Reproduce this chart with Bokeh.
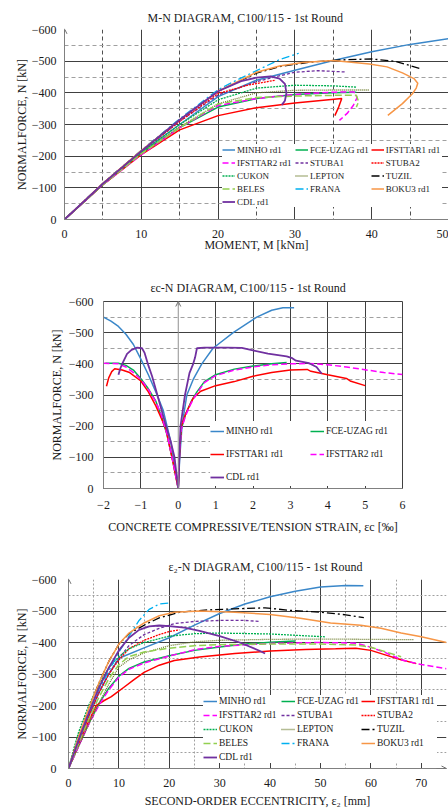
from bokeh.plotting import figure
from bokeh.layouts import column
from bokeh.models import (Range1d, FixedTicker, Legend, LegendItem,
                          Arrow, OpenHead, Span)
from bokeh.embed import file_html
from bokeh.resources import INLINE

FONT = "Liberation Serif"

# ---------------- Chart 1 : M-N diagram (M [kNm], N [kN]) ----------------
mn_minho_m = [0, 5, 10, 15, 20, 25, 30, 35, 40, 45, 50]
mn_minho_n = [0, -112, -212, -300, -388, -440, -471, -502, -530, -553, -571]
mn_fce_m = [0, 5, 10, 15, 20, 25, 30, 35, 38]
mn_fce_n = [0, -110, -208, -290, -355, -382, -395, -400, -402]
mn_ifs1_m = [0, 5, 10, 15, 20, 25, 30, 36.1, 35.7, 35.2]
mn_ifs1_n = [0, -110, -205, -283, -328, -353, -368, -382, -355, -328]
mn_ifs2_m = [0, 5, 10, 15, 20, 25, 30, 35, 37.7, 38.1, 37.6, 36.8, 35.8]
mn_ifs2_n = [0, -110, -205, -290, -360, -382, -395, -402, -403, -385, -360, -335, -313]
mn_stuba1_m = [0, 5, 10, 15, 20, 25, 27, 30, 33, 36.5]
mn_stuba1_n = [0, -113, -215, -310, -393, -435, -448, -465, -470, -466]
mn_stuba2_m = [0, 5, 10, 15, 20, 24, 27.5]
mn_stuba2_n = [0, -113, -215, -310, -398, -425, -440]
mn_cukon_m = [0, 5, 10, 15, 20, 25, 30, 35, 38]
mn_cukon_n = [0, -112, -212, -300, -378, -415, -424, -422, -418]
mn_lepton_m = [0, 5, 10, 15, 20, 25, 30, 35, 39.7]
mn_lepton_n = [0, -110, -208, -293, -365, -400, -408, -409, -409]
mn_tuzil_m = [0, 5, 10, 15, 20, 25, 28, 32, 36, 40, 43, 46.4]
mn_tuzil_n = [0, -114, -218, -315, -405, -462, -483, -497, -504, -507, -500, -476]
mn_beles_m = [0, 5, 10, 15, 20, 25, 30, 35, 38, 38.3, 38.0]
mn_beles_n = [0, -110, -208, -290, -365, -385, -390, -392, -392, -372, -355]
mn_frana_m = [0, 5, 10, 15, 20, 22, 25, 28, 30.5]
mn_frana_n = [0, -114, -218, -318, -410, -435, -470, -505, -525]
mn_boku_m = [0, 5, 10, 15, 20, 25, 28, 31, 35, 39.7, 42, 44, 45.5, 46, 45.8, 45.3, 44, 42.1]
mn_boku_n = [0, -114, -218, -315, -405, -465, -485, -496, -502, -491, -482, -463, -445, -430, -415, -397, -366, -329]
mn_cdl_m = [0, 5, 10, 15, 20, 23, 25, 26.8, 28, 28.7, 28.9, 28.7, 28.3]
mn_cdl_n = [0, -113, -216, -315, -405, -437, -448, -452, -445, -428, -400, -375, -362]

# ---------------- Chart 2 : eps_c - N diagram (strain [permil], N [kN]) ----------------
ec_minho_e = [-2, -1.8, -1.6, -1.4, -1.2, -1.0, -0.8, -0.6, -0.4, -0.2, 0,
              0.04, 0.1, 0.23, 0.4, 0.63, 0.93, 1.47, 2.1, 2.5, 2.8, 3.1]
ec_minho_n = [-550, -537, -520, -495, -462, -415, -365, -310, -250, -150, 0,
              -100, -200, -300, -350, -400, -450, -500, -550, -572, -580, -580]
ec_fce_e = [-1.95, -1.6, -1.4, -1.2, -1.0, -0.8, -0.6, -0.45, -0.3, -0.15, 0,
            0.03, 0.08, 0.2, 0.35, 0.5, 0.7, 1.0, 1.5, 2.0, 2.5, 2.9]
ec_fce_n = [-402, -402, -395, -380, -352, -320, -280, -232, -172, -90, 0,
            -100, -190, -240, -280, -310, -343, -365, -383, -393, -400, -404]
ec_ifs1_e = [-1.92, -1.86, -1.78, -1.7, -1.5, -1.3, -1.0, -0.8, -0.6, -0.45, -0.33, -0.15, 0,
             0.03, 0.08, 0.2, 0.4, 0.6, 1.0, 1.5, 2.0, 2.5, 3.0, 3.45, 3.55, 4.0, 4.5, 4.6, 5.0]
ec_ifs1_n = [-328, -355, -375, -384, -380, -372, -345, -310, -265, -225, -190, -90, 0,
             -100, -200, -240, -290, -312, -330, -343, -360, -372, -380, -382, -376, -365, -353, -345, -330]
ec_ifs2_e = [-2, -1.6, -1.4, -1.2, -1.0, -0.8, -0.6, -0.45, -0.3, -0.15, 0,
             0.03, 0.08, 0.2, 0.35, 0.5, 0.7, 1.0, 1.5, 2.0, 2.5, 3.0, 3.5, 4.0, 4.5, 5.0, 5.5, 6.0]
ec_ifs2_n = [-402, -400, -390, -372, -350, -318, -278, -235, -175, -90, 0,
             -100, -190, -235, -275, -305, -340, -362, -380, -390, -397, -400, -401, -397, -390, -381, -372, -366]
ec_cdl_e = [-1.6, -1.55, -1.5, -1.37, -1.25, -1.1, -0.97, -0.9, -0.8, -0.7, -0.57, -0.35, -0.2, -0.1, 0,
            0.03, 0.06, 0.18, 0.3, 0.4, 0.45, 0.5, 0.7, 1.3, 1.7, 2.0, 2.4, 2.9, 3.05, 3.15, 3.5, 3.7, 3.84]
ec_cdl_n = [-365, -385, -400, -432, -445, -452, -450, -435, -395, -360, -305, -210, -150, -100, 0,
            -100, -200, -300, -370, -400, -420, -450, -452, -452, -451, -443, -433, -424, -418, -410, -402, -390, -368]

# ---------------- Chart 3 : e2 - N diagram (e2 [mm], N [kN]) ----------------
e2_minho_e = [0, 2, 4, 6, 8, 10, 15, 20, 25, 30, 35, 40, 45, 50, 55, 58.5]
e2_minho_n = [0, -85, -165, -240, -300, -350, -383, -415, -455, -492, -522, -545, -563, -576, -581, -580]
e2_fce_e = [0, 2, 4, 6, 8, 10, 12, 15, 20, 25, 30, 35, 40, 45]
e2_fce_n = [0, -72, -142, -205, -255, -293, -318, -338, -358, -375, -386, -395, -401, -405]
e2_ifs1_e = [0, 2, 4, 5.5, 7, 8.5, 9.5, 11, 13, 15, 18, 21, 26, 33, 40, 47, 53, 57, 60, 63, 66, 69]
e2_ifs1_n = [0, -75, -150, -200, -215, -228, -240, -258, -282, -305, -328, -343, -354, -365, -373, -378, -380, -382, -375, -360, -345, -333]
e2_ifs2_e = [0, 2, 4, 6, 8, 10, 12, 15, 20, 25, 30, 40, 50, 57, 60, 63, 66, 70, 75]
e2_ifs2_n = [0, -70, -140, -200, -250, -290, -315, -335, -357, -377, -388, -397, -400, -398, -385, -367, -345, -330, -317]
e2_stuba1_e = [0, 2, 4, 6, 8, 10, 12, 15, 18, 21, 25, 30, 35, 38]
e2_stuba1_n = [0, -85, -165, -240, -300, -350, -390, -425, -445, -460, -467, -470, -470, -467]
e2_stuba2_e = [0, 2, 4, 6, 8, 10, 12, 15, 18, 20, 22]
e2_stuba2_n = [0, -85, -165, -240, -300, -345, -380, -407, -425, -435, -440]
e2_cukon_e = [0, 1, 2, 4, 6, 8, 10, 12, 15, 20, 25, 30, 40, 51]
e2_cukon_n = [0, -60, -115, -200, -265, -320, -355, -380, -400, -420, -428, -430, -427, -418]
e2_lepton_e = [0, 2, 4, 6, 8, 10, 12, 15, 20, 25, 30, 40, 50, 60, 68.5]
e2_lepton_n = [0, -70, -140, -205, -268, -322, -345, -367, -390, -402, -407, -410, -411, -410, -409]
e2_tuzil_e = [0, 2, 4, 6, 8, 10, 12, 15.6, 18, 22, 27, 33, 39, 44, 50, 55, 58.6]
e2_tuzil_n = [0, -100, -190, -270, -340, -395, -428, -460, -478, -496, -503, -507, -510, -502, -496, -488, -479]
e2_beles_e = [0, 2, 4, 6, 8, 10, 12, 15, 20, 25, 30, 40, 50, 57, 60, 63, 66]
e2_beles_n = [0, -80, -155, -225, -285, -330, -355, -370, -382, -390, -393, -395, -395, -392, -385, -370, -355]
e2_frana_e = [0, 2, 4, 6, 8, 10, 12, 14, 16, 18, 20]
e2_frana_n = [0, -90, -175, -250, -310, -370, -420, -470, -505, -522, -525]
e2_boku_e = [0, 2, 4, 6, 8, 10, 12, 15, 18, 21, 26, 33, 40, 46, 52, 58, 62, 66, 70, 75]
e2_boku_n = [0, -100, -190, -270, -340, -395, -430, -462, -485, -496, -500, -496, -489, -477, -462, -455, -445, -430, -418, -400]
e2_cdl_e = [0, 2, 4, 6, 8, 10, 12, 14, 16, 18, 20, 23, 26, 30, 34, 38, 39]
e2_cdl_n = [0, -90, -175, -255, -320, -375, -415, -440, -451, -454, -452, -447, -437, -420, -400, -373, -365]

n_ticks = [0, -100, -200, -300, -400, -500, -600]

# ---------------- styles ----------------
STYLE = {
    "MINHO rd1":    dict(line_color="#3A87C9", line_dash="solid", line_width=1.5),
    "FCE-UZAG rd1": dict(line_color="#00B050", line_dash="solid", line_width=1.5),
    "IFSTTAR1 rd1": dict(line_color="#FF0000", line_dash="solid", line_width=1.5),
    "IFSTTAR2 rd1": dict(line_color="#FF00FF", line_dash="6 3", line_width=1.5),
    "STUBA1":       dict(line_color="#7030A0", line_dash="3 2", line_width=1.3),
    "STUBA2":       dict(line_color="#FF0000", line_dash="2 1", line_width=1.3),
    "CUKON":        dict(line_color="#00B050", line_dash="2 1", line_width=1.3),
    "LEPTON":       dict(line_color="#6B7A2A", line_dash="1 1", line_width=1.3),
    "TUZIL":        dict(line_color="#000000", line_dash="8 3 2 3", line_width=1.3),
    "BELES":        dict(line_color="#92D050", line_dash="7 3", line_width=1.5),
    "FRANA":        dict(line_color="#00B0F0", line_dash="8 3 2 3", line_width=1.3),
    "BOKU3 rd1":    dict(line_color="#F79646", line_dash="solid", line_width=1.5),
    "CDL rd1":      dict(line_color="#7030A0", line_dash="solid", line_width=1.8),
}


def make_fig(xr, yr, mb, title, title_offset, title_standoff, stand):
    p = figure(width=448, height=mb[4], x_range=Range1d(*xr), y_range=Range1d(*yr),
               output_backend="svg", toolbar_location=None,
               min_border_left=mb[0], min_border_right=mb[1],
               min_border_top=mb[2], min_border_bottom=mb[3], title=title)
    p.title.text_font = FONT
    p.title.text_font_size = "12px"
    p.title.text_font_style = "normal"
    p.title.text_color = "#1a1a1a"
    p.title.align = "left"
    p.title.offset = title_offset
    p.title.standoff = title_standoff
    p.outline_line_color = None
    p.background_fill_color = "white"
    p.border_fill_color = "white"
    for ax in (p.xaxis[0], p.yaxis[0]):
        ax.major_label_text_font = FONT
        ax.major_label_text_font_size = "12px"
        ax.major_label_text_color = "#1a1a1a"
        ax.axis_label_text_font = FONT
        ax.axis_label_text_font_size = "12px"
        ax.axis_label_text_font_style = "normal"
        ax.axis_label_text_color = "#1a1a1a"
        ax.major_tick_line_color = None
        ax.minor_tick_line_color = None
        ax.major_tick_out = 0
        ax.major_tick_in = 0
        ax.minor_tick_out = 0
        ax.minor_tick_in = 0
        ax.axis_line_color = "#808080"
    p.xaxis.major_label_standoff = stand[0]
    p.xaxis.axis_label_standoff = stand[1]
    p.yaxis.major_label_standoff = stand[2]
    p.yaxis.axis_label_standoff = stand[3]
    return p


def make_legend(items, ncols, loc, gh, lh, spacing, padding, gw, font, label_width=20):
    return Legend(items=items, ncols=ncols, orientation="horizontal", location=loc,
                  margin=0, padding=padding,
                  spacing=spacing, glyph_height=gh, label_height=lh, glyph_width=gw,
                  label_width=label_width, label_standoff=2,
                  label_text_font=FONT, label_text_font_size=font,
                  label_text_color="#1a1a1a", border_line_color=None,
                  background_fill_color="white", background_fill_alpha=1.0)


# =============== Chart 1 ===============
p1 = make_fig((0, 50), (0, -600), (64, 0, 29, 49, 268),
              "M-N DIAGRAM, C100/115 - 1st Round", 83, 10, (10, -3, 8, 0))
p1.xaxis.ticker = FixedTicker(ticks=[0, 10, 20, 30, 40, 50])
p1.yaxis.ticker = FixedTicker(ticks=n_ticks)
p1.xaxis.axis_label = "MOMENT, M [kNm]"
p1.yaxis.axis_label = "NORMALFORCE, N [kN]"
p1.xgrid.ticker = FixedTicker(ticks=[10, 20, 30, 40, 50], minor_ticks=[5, 15, 25, 35, 45])
p1.xgrid.grid_line_color = "#404040"
p1.xgrid.minor_grid_line_color = "#505050"
p1.xgrid.minor_grid_line_dash = "4 3"
p1.ygrid.ticker = FixedTicker(ticks=[-100, -200, -300, -400, -500, -600],
                              minor_ticks=[-50, -150, -250, -350, -450, -550])
p1.ygrid.grid_line_color = "#404040"
p1.ygrid.minor_grid_line_color = "#a0a0a0"
p1.ygrid.minor_grid_line_dash = "4 3"

c1 = [("MINHO rd1", mn_minho_m, mn_minho_n), ("FCE-UZAG rd1", mn_fce_m, mn_fce_n),
      ("IFSTTAR1 rd1", mn_ifs1_m, mn_ifs1_n), ("IFSTTAR2 rd1", mn_ifs2_m, mn_ifs2_n),
      ("STUBA1", mn_stuba1_m, mn_stuba1_n), ("STUBA2", mn_stuba2_m, mn_stuba2_n),
      ("CUKON", mn_cukon_m, mn_cukon_n), ("LEPTON", mn_lepton_m, mn_lepton_n),
      ("TUZIL", mn_tuzil_m, mn_tuzil_n), ("BELES", mn_beles_m, mn_beles_n),
      ("FRANA", mn_frana_m, mn_frana_n), ("BOKU3 rd1", mn_boku_m, mn_boku_n),
      ("CDL rd1", mn_cdl_m, mn_cdl_n)]
items1 = []
for name, xs, ys in c1:
    r = p1.line(xs, ys, **STYLE[name])
    items1.append(LegendItem(label=name, renderers=[r]))
p1.add_layout(make_legend(items1, 3, (158, 12), 11, 11, 2, 3, 13, "9px", 56))
p1.add_layout(Arrow(end=OpenHead(size=5, line_color="#707070", line_width=1),
                    x_start=0, y_start=-590, x_end=0, y_end=-602,
                    line_color="#707070", line_width=1))

# =============== Chart 2 ===============
p2 = make_fig((-2, 6), (0, -600), (103, 46, 33, 52, 272),
              "εc-N DIAGRAM, C100/115 - 1st Round", 47, 13, (12, 8, 10, 2))
p2.outline_line_color = "#404040"
p2.xaxis.ticker = FixedTicker(ticks=[-2, -1, 0, 1, 2, 3, 4, 5, 6])
p2.yaxis.ticker = FixedTicker(ticks=n_ticks)
p2.xaxis.axis_label = "CONCRETE COMPRESSIVE/TENSION STRAIN, εc [‰]"
p2.yaxis.axis_label = "NORMALFORCE, N [kN]"
p2.xgrid.ticker = FixedTicker(ticks=[-1, 1, 2, 3, 4, 5])
p2.xgrid.grid_line_color = "#404040"
p2.ygrid.ticker = FixedTicker(ticks=[-100, -200, -300, -400, -500],
                              minor_ticks=[-50, -150, -250, -350, -450, -550])
p2.ygrid.grid_line_color = "#404040"
p2.ygrid.minor_grid_line_color = "#a0a0a0"
p2.ygrid.minor_grid_line_dash = "4 3"
p2.add_layout(Span(location=0, dimension="height", line_color="#909090", line_width=1))
p2.add_layout(Arrow(end=OpenHead(size=5, line_color="#707070", line_width=1),
                    x_start=0, y_start=-588, x_end=0, y_end=-600,
                    line_color="#909090", line_width=1))

c2 = [("MINHO rd1", ec_minho_e, ec_minho_n), ("FCE-UZAG rd1", ec_fce_e, ec_fce_n),
      ("IFSTTAR1 rd1", ec_ifs1_e, ec_ifs1_n), ("IFSTTAR2 rd1", ec_ifs2_e, ec_ifs2_n),
      ("CDL rd1", ec_cdl_e, ec_cdl_n)]
items2 = []
for name, xs, ys in c2:
    r = p2.line(xs, ys, **STYLE[name])
    items2.append(LegendItem(label=name, renderers=[r]))
p2.add_layout(make_legend(items2, 2, (107, 2), 12, 19, 4, 8, 14, "9.5px", 80))

# =============== Chart 3 ===============
p3 = make_fig((0, 75), (0, -600), (68, 2, 39, 44, 272),
              "ε₂-N DIAGRAM, C100/115 - 1st Round", 100, 12, (10, 4, 12, 0))
p3.xaxis.ticker = FixedTicker(ticks=[0, 10, 20, 30, 40, 50, 60, 70])
p3.yaxis.ticker = FixedTicker(ticks=n_ticks)
p3.xaxis.axis_label = "SECOND-ORDER ECCENTRICITY, ε₂ [mm]"
p3.yaxis.axis_label = "NORMALFORCE, N [kN]"
p3.xgrid.ticker = FixedTicker(ticks=[10, 20, 30, 40, 50, 60, 70],
                              minor_ticks=[5, 15, 25, 35, 45, 55, 65])
p3.xgrid.grid_line_color = "#404040"
p3.xgrid.minor_grid_line_color = "#a0a0a0"
p3.xgrid.minor_grid_line_dash = "2 2"
p3.ygrid.ticker = FixedTicker(ticks=[-100, -200, -300, -400, -500],
                              minor_ticks=[-50, -150, -250, -350, -450, -550])
p3.ygrid.grid_line_color = "#404040"
p3.ygrid.minor_grid_line_color = "#a0a0a0"
p3.ygrid.minor_grid_line_dash = "2 2"

c3 = [("MINHO rd1", e2_minho_e, e2_minho_n), ("FCE-UZAG rd1", e2_fce_e, e2_fce_n),
      ("IFSTTAR1 rd1", e2_ifs1_e, e2_ifs1_n), ("IFSTTAR2 rd1", e2_ifs2_e, e2_ifs2_n),
      ("STUBA1", e2_stuba1_e, e2_stuba1_n), ("STUBA2", e2_stuba2_e, e2_stuba2_n),
      ("CUKON", e2_cukon_e, e2_cukon_n), ("LEPTON", e2_lepton_e, e2_lepton_n),
      ("TUZIL", e2_tuzil_e, e2_tuzil_n), ("BELES", e2_beles_e, e2_beles_n),
      ("FRANA", e2_frana_e, e2_frana_n), ("BOKU3 rd1", e2_boku_e, e2_boku_n),
      ("CDL rd1", e2_cdl_e, e2_cdl_n)]
items3 = []
for name, xs, ys in c3:
    r = p3.line(xs, ys, **STYLE[name])
    items3.append(LegendItem(label=name, renderers=[r]))
p3.add_layout(make_legend(items3, 3, (135, 5), 12, 12, 2, 3, 14, "9.5px", 60))
p3.add_layout(Arrow(end=OpenHead(size=5, line_color="#707070", line_width=1),
                    x_start=0, y_start=-590, x_end=0, y_end=-602,
                    line_color="#707070", line_width=1))
p3.add_layout(Arrow(end=OpenHead(size=5, line_color="#707070", line_width=1),
                    x_start=73, y_start=0, x_end=75, y_end=0,
                    line_color="#707070", line_width=1))

layout = column(column(p1), column(p2), column(p3), spacing=0)
open("out.html", "w").write(file_html(layout, INLINE))
